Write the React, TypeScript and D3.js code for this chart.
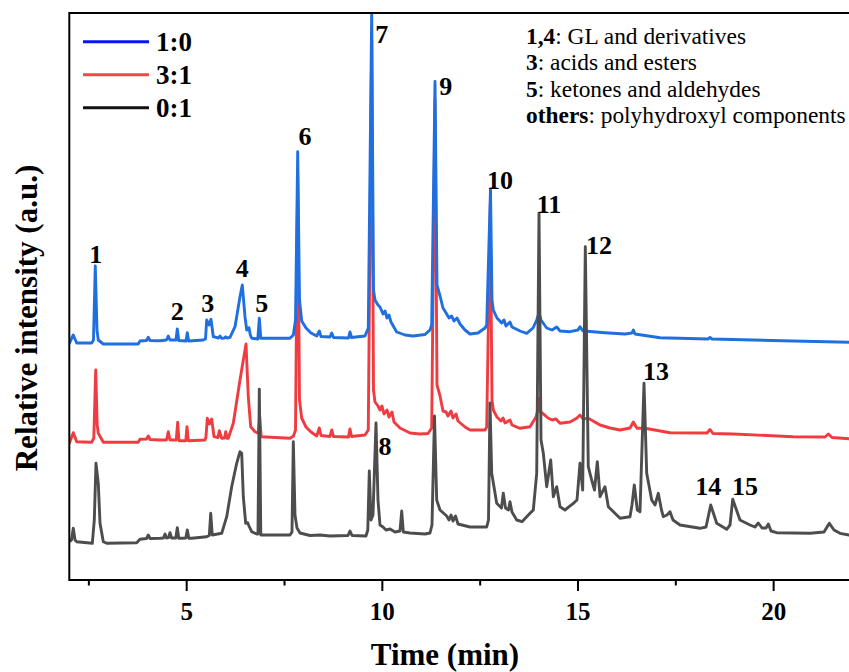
import React from "react";
import * as d3 from "d3";

const W = 849;
const H = 672;
const SERIF = '"Liberation Serif", "Times New Roman", Times, serif';

// Series: sample ratios, trace colours, legend swatch colours, vertical stacking offsets (a.u.)
const seriesNames = ["1:0", "3:1", "0:1"];
const traceColors = ["#1f6fe0", "#f03c40", "#4d4d4d"];
const legendColors = ["#0a14f0", "#f04848", "#111111"];
const baselineOffsets = [236, 136, 36];

const xMajorTicks = [5, 10, 15, 20];
const xMinorTicks = [2.5, 7.5, 12.5, 17.5];

// Chromatogram of the 1:0 sample: [retention time (min), intensity (a.u.)]
const trace10: [number, number][] = [
  [2.0, 0.7], [2.102, 9], [2.189, 1], [2.572, 1], [2.618, 4], [2.664, 78], [2.708, 14], [2.741, 4],
  [2.869, 0], [3.763, 0], [3.807, 3], [3.973, 3.5], [4.019, 6.7], [4.062, 3.5], [4.318, 3.3],
  [4.484, 4], [4.53, 8], [4.573, 4], [4.727, 4], [4.76, 15], [4.798, 3.5], [4.982, 3], [5.016, 11.3],
  [5.049, 3], [5.424, 4], [5.481, 5], [5.511, 24], [5.57, 19], [5.621, 24.7], [5.68, 7.3], [5.813, 6],
  [5.851, 8], [5.89, 5.7], [5.966, 6], [5.997, 7.3], [6.03, 6], [6.107, 6.7], [6.235, 17.3],
  [6.362, 47.3], [6.421, 59], [6.49, 27.3], [6.534, 14], [6.567, 15], [6.592, 16.3], [6.626, 9],
  [6.661, 5.7], [6.817, 5], [6.856, 25.7], [6.894, 5.7], [7.64, 5.7], [7.725, 9], [7.781, 24],
  [7.837, 192.2], [7.883, 44], [7.939, 23], [8.049, 16], [8.177, 11], [8.323, 8], [8.389, 13],
  [8.432, 7.5], [8.662, 7], [8.706, 11], [8.752, 6.5], [9.135, 6], [9.173, 12], [9.212, 6.5],
  [9.557, 8], [9.641, 16], [9.728, 332], [9.774, 54], [9.812, 44], [9.889, 39], [9.94, 37],
  [10.017, 30], [10.068, 33], [10.119, 26], [10.17, 29], [10.221, 22], [10.367, 12], [10.579, 9],
  [10.784, 8], [11.09, 9.5], [11.218, 14], [11.261, 19], [11.346, 262.6], [11.397, 59], [11.474, 48],
  [11.55, 36], [11.645, 30], [11.704, 26], [11.773, 28], [11.831, 23], [11.908, 26], [11.985, 20],
  [12.112, 14], [12.24, 10], [12.445, 11], [12.624, 16], [12.667, 19], [12.764, 155], [12.802, 44],
  [12.836, 34], [12.93, 26], [13.05, 21], [13.109, 24], [13.16, 18], [13.262, 22], [13.313, 17],
  [13.518, 13], [13.689, 10.7], [13.85, 16], [13.945, 24], [14.004, 31], [14.055, 24], [14.2, 16],
  [14.336, 14], [14.456, 17], [14.54, 13], [14.796, 12.3], [15.0, 14], [15.051, 17.3], [15.128, 13],
  [15.384, 12.3], [15.69, 11.3], [16.201, 10], [16.38, 11], [16.414, 14], [16.457, 10], [17.096, 6.3],
  [18.322, 5], [18.374, 6.5], [18.425, 5], [20.495, 3], [21.926, 1.7],
];

// Chromatogram of the 3:1 sample
const trace31: [number, number][] = [
  [2.0, 0.7], [2.102, 11.3], [2.189, 2.3], [2.572, 1.7], [2.626, 6], [2.675, 74], [2.713, 19],
  [2.741, 10.7], [2.869, 1.7], [3.763, 1.7], [3.807, 4.7], [3.973, 5], [4.019, 8], [4.062, 4.5],
  [4.318, 4], [4.484, 4], [4.53, 12.3], [4.573, 4], [4.732, 4], [4.77, 21.7], [4.803, 3.3],
  [4.977, 3.3], [5.008, 17.3], [5.041, 3.3], [5.468, 4], [5.493, 7], [5.527, 25.7], [5.583, 20],
  [5.639, 25], [5.698, 7.3], [5.8, 6.5], [5.833, 13.3], [5.895, 5.7], [5.966, 6], [5.997, 12.3],
  [6.03, 5.7], [6.063, 5.7], [6.191, 20.7], [6.362, 64], [6.516, 100], [6.574, 47.3], [6.636, 17.3],
  [6.746, 12.3], [6.83, 10.7], [6.866, 27.3], [6.904, 7.3], [7.64, 5.7], [7.73, 8], [7.781, 14],
  [7.837, 269], [7.883, 44], [7.939, 26], [8.049, 17], [8.177, 12], [8.323, 8], [8.389, 16],
  [8.432, 8.5], [8.662, 7.5], [8.706, 14], [8.752, 7.5], [9.135, 7], [9.173, 15], [9.212, 7.5],
  [9.557, 9], [9.641, 14], [9.728, 404], [9.774, 54], [9.812, 42], [9.889, 38], [9.94, 34],
  [9.991, 38], [10.042, 30], [10.119, 34], [10.17, 27], [10.247, 32], [10.298, 22], [10.451, 16],
  [10.707, 11], [10.962, 10], [11.167, 10.5], [11.261, 16], [11.346, 344], [11.397, 59], [11.474, 48],
  [11.55, 33], [11.627, 32], [11.678, 28], [11.755, 33], [11.806, 26], [11.883, 30], [11.934, 23],
  [12.112, 17], [12.24, 14], [12.624, 14], [12.667, 17], [12.759, 239], [12.802, 44], [12.836, 34],
  [12.923, 27.3], [13.032, 23], [13.084, 26], [13.135, 21], [13.262, 24], [13.313, 19], [13.518, 15.7],
  [13.774, 17.3], [13.927, 27], [13.96, 32], [14.004, 45.7], [14.042, 32], [14.098, 30.7], [14.234, 26],
  [14.336, 24], [14.438, 25], [14.54, 20.7], [14.796, 22], [14.975, 26], [15.051, 29], [15.128, 25],
  [15.263, 25.7], [15.384, 23], [15.563, 19], [15.818, 16], [16.074, 14], [16.329, 16], [16.414, 22],
  [16.508, 15.7], [16.712, 15.7], [17.351, 11.3], [18.297, 11], [18.374, 14.5], [18.45, 10.5],
  [18.961, 10], [20.495, 7.3], [21.313, 7], [21.397, 10], [21.492, 6.5], [21.926, 5.3],
];

// Chromatogram of the 0:1 sample
const trace01: [number, number][] = [
  [2.0, 2.3], [2.056, 4], [2.102, 15.7], [2.146, 4], [2.189, 2.3], [2.588, 0.7], [2.639, 24],
  [2.682, 80.7], [2.741, 60.7], [2.785, 20.7], [2.869, 2.3], [2.956, 0.7], [3.722, 1.3], [3.807, 4.7],
  [3.973, 5.5], [4.019, 9], [4.062, 5.5], [4.318, 5.7], [4.407, 6], [4.446, 10], [4.484, 6],
  [4.535, 6.5], [4.573, 11.3], [4.612, 6], [4.722, 6], [4.76, 16.3], [4.798, 5.7], [4.872, 5.7],
  [4.977, 6], [5.016, 14], [5.054, 5.7], [5.128, 5.7], [5.511, 7.3], [5.578, 8.5], [5.614, 30.7],
  [5.654, 9], [5.895, 10.7], [6.023, 27.3], [6.15, 57.3], [6.278, 80.7], [6.362, 92.3], [6.406, 90.7],
  [6.447, 47.3], [6.508, 20.7], [6.559, 21.3], [6.592, 18], [6.661, 12.3], [6.789, 10], [6.822, 10],
  [6.856, 154.7], [6.894, 9], [7.64, 9], [7.691, 12], [7.725, 102.3], [7.768, 29], [7.819, 16],
  [7.896, 11], [8.151, 8.5], [8.407, 9], [8.662, 8], [9.122, 8.5], [9.173, 13], [9.225, 8.5],
  [9.582, 8], [9.628, 14], [9.667, 73], [9.71, 24], [9.761, 29], [9.838, 121], [9.889, 44],
  [9.94, 19], [10.017, 17], [10.094, 14], [10.196, 15], [10.324, 12], [10.451, 13], [10.495, 33],
  [10.536, 12], [10.707, 11], [11.09, 10], [11.218, 11], [11.269, 19], [11.333, 128], [11.389, 44],
  [11.474, 34], [11.645, 28], [11.704, 24], [11.755, 29], [11.806, 23], [11.87, 28], [11.934, 20],
  [12.24, 17], [12.667, 17], [12.713, 24], [12.751, 141], [12.795, 70.7], [12.923, 40.7], [13.045, 36],
  [13.091, 50.7], [13.148, 36], [13.224, 34], [13.262, 42.3], [13.313, 32], [13.434, 24], [13.569, 22.3],
  [13.774, 30.7], [13.858, 34], [13.945, 70.7], [14.004, 330.7], [14.055, 104], [14.114, 90.7],
  [14.2, 57.3], [14.303, 84], [14.369, 47.3], [14.456, 57.3], [14.54, 37.3], [14.668, 34], [14.88, 40.7],
  [14.975, 44], [15.051, 80.7], [15.12, 54], [15.187, 297.3], [15.263, 77.3], [15.35, 64], [15.422, 54],
  [15.494, 82.3], [15.563, 47.3], [15.69, 57.3], [15.775, 37.3], [16.074, 25.7], [16.329, 27.3],
  [16.38, 39], [16.439, 59], [16.516, 34], [16.585, 32.3], [16.687, 160.7], [16.756, 70.7], [16.884, 44],
  [16.968, 39], [17.052, 50.7], [17.134, 34], [17.18, 27.3], [17.275, 29], [17.351, 32.3], [17.428, 24],
  [17.607, 19], [18.118, 15.7], [18.272, 17], [18.392, 39], [18.545, 20.7], [18.8, 14.7], [18.885, 19],
  [18.954, 44.7], [19.14, 24], [19.396, 19], [19.524, 17], [19.608, 21], [19.703, 16], [19.805, 16],
  [19.864, 20], [19.933, 13], [20.078, 11.3], [20.929, 10.7], [21.287, 12], [21.423, 20.7], [21.543, 14],
  [21.696, 10.7], [21.926, 9],
];

const traces = [trace10, trace31, trace01];

// Peak numbers: label, retention time (min), stacked level (a.u.) of the label baseline
const peakLabels: [string, number, number][] = [
  ["1", 2.675, 317], ["2", 4.76, 260], ["3", 5.537, 268.3], ["4", 6.421, 303.3], ["5", 6.917, 268.3],
  ["6", 8.024, 435.4], ["7", 9.984, 537], ["8", 10.068, 125], ["9", 11.619, 485.4], ["10", 13.007, 391.5],
  ["11", 14.259, 366.7], ["12", 15.537, 326], ["13", 16.994, 200], ["14", 18.33, 85], ["15", 19.268, 85],
];

// Compound classes behind the peak numbers
const classKeys = ["1,4", "3", "5", "others"];
const classNames = [": GL and derivatives", ": acids and esters", ": ketones and aldehydes", ": polyhydroxyl components"];

const M = { left: 69.3, right: 851.9, top: 13, bottom: 580 };

export default function App() {
  const x = d3.scaleLinear().domain([2, 22]).range([M.left, M.right]);
  const y = d3.scaleLinear().domain([0, 567]).range([M.bottom, M.top]);

  const lineFor = (offset: number) =>
    d3
      .line<[number, number]>()
      .x((d) => x(d[0]))
      .y((d) => y(d[1] + offset))
      .curve(d3.curveLinear);

  // red underneath, blue above it, grey on top
  const drawOrder = [1, 0, 2];

  return (
    <svg
      width={W}
      height={H}
      style={{ position: "fixed", left: 0, top: 0, background: "#fff" }}
      fontFamily={SERIF}
    >
      <defs>
        <clipPath id="plotArea">
          <rect x={M.left} y={M.top} width={M.right - M.left} height={M.bottom - M.top} />
        </clipPath>
      </defs>
      <rect x={0} y={0} width={W} height={H} fill="#fff" />

      <g clipPath="url(#plotArea)">
        {drawOrder.map((i) => (
          <path
            key={seriesNames[i]}
            d={lineFor(baselineOffsets[i])(traces[i]) || ""}
            fill="none"
            stroke={traceColors[i]}
            strokeWidth={2.9}
            strokeLinejoin="round"
            strokeLinecap="round"
          />
        ))}
      </g>

      {/* frame */}
      <line x1={M.left} x2={W + 5} y1={M.top} y2={M.top} stroke="#000" strokeWidth={2} />
      <line x1={M.left} x2={W + 5} y1={M.bottom} y2={M.bottom} stroke="#000" strokeWidth={2} />
      <line x1={M.left} x2={M.left} y1={M.top - 1} y2={M.bottom + 1} stroke="#000" strokeWidth={2} />

      {/* x ticks */}
      {xMajorTicks.map((t) => (
        <g key={"M" + t}>
          <line x1={x(t)} x2={x(t)} y1={M.bottom} y2={M.bottom + 11} stroke="#000" strokeWidth={2} />
          <text x={x(t)} y={620} textAnchor="middle" fontSize={25} fontWeight="bold">
            {t}
          </text>
        </g>
      ))}
      {xMinorTicks.map((t) => (
        <line key={"m" + t} x1={x(t)} x2={x(t)} y1={M.bottom} y2={M.bottom + 5.5} stroke="#000" strokeWidth={2} />
      ))}

      {/* axis titles */}
      <text x={445} y={665} textAnchor="middle" fontSize={31} fontWeight="bold">
        Time (min)
      </text>
      <text
        transform={`translate(37,318) rotate(-90)`}
        textAnchor="middle"
        fontSize={31}
        fontWeight="bold"
      >
        Relative intensity (a.u.)
      </text>

      {/* peak numbers */}
      {peakLabels.map(([lab, t, v]) => (
        <text key={lab} x={x(t)} y={y(v)} textAnchor="middle" fontSize={26} fontWeight="bold">
          {lab}
        </text>
      ))}

      {/* legend */}
      {seriesNames.map((name, i) => (
        <g key={name} transform={`translate(0, ${41.7 + i * 33})`}>
          <line x1={83} x2={149} y1={0} y2={0} stroke={legendColors[i]} strokeWidth={3} />
          <text x={156} y={9} fontSize={27} fontWeight="bold">
            {name}
          </text>
        </g>
      ))}

      {/* compound classes */}
      {classKeys.map((k, i) => (
        <text key={k} x={526} y={43.5 + i * 26.6} fontSize={23.4}>
          <tspan fontWeight="bold">{k}</tspan>
          <tspan>{classNames[i]}</tspan>
        </text>
      ))}
    </svg>
  );
}
